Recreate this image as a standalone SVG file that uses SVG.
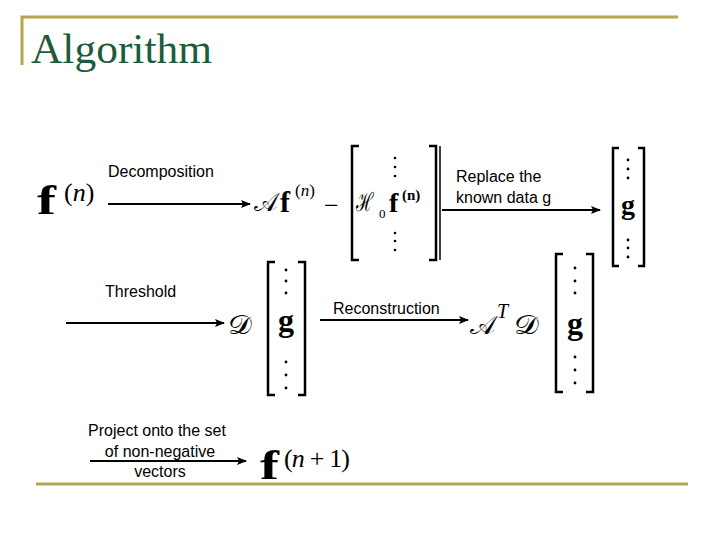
<svg xmlns="http://www.w3.org/2000/svg" width="720" height="540" viewBox="0 0 720 540">
<defs>
<marker id="ah" viewBox="0 0 10 10" refX="9" refY="5" markerWidth="10" markerHeight="10" markerUnits="userSpaceOnUse" orient="auto">
<path d="M0,1 L10,5 L0,9 L2,5 Z" fill="#000"/>
</marker>
</defs>
<style>
.frame{stroke:#b3a552;stroke-width:3;fill:none}
.title{font-family:"Liberation Serif",serif;font-size:42px;fill:#1d5c3a}
.lbl{font-family:"Liberation Sans",Arial,sans-serif;font-size:16px;fill:#000}
.m{font-family:"Liberation Serif","DejaVu Serif",serif;fill:#000}
.fb{font-weight:bold;font-size:42px}
.sup{font-size:26px}
.it{font-style:italic}
.cal{font-family:"DejaVu Serif","Liberation Serif",serif;font-size:26px}
.br{stroke:#000;stroke-width:2.5;fill:none}
.conn{stroke:#000;stroke-width:2;fill:none;marker-end:url(#ah)}
.dot{fill:#000}
</style>
<rect width="720" height="540" fill="#fff"/>
<g id="frame">
<path class="frame" d="M22,65 L22,17 L678,17"/>
<path class="frame" d="M36,484 L688,484"/>
<text class="title" x="31" y="63" textLength="181" lengthAdjust="spacingAndGlyphs">Algorithm</text>
</g>
<g id="connectors">
<line class="conn" x1="108" y1="204" x2="250" y2="204"/>
<line class="conn" x1="442" y1="210" x2="600" y2="210"/>
<line class="conn" x1="66" y1="323" x2="224" y2="323"/>
<line class="conn" x1="320" y1="320" x2="468" y2="320"/>
<line class="conn" x1="90" y1="461" x2="246" y2="461"/>
<text class="lbl" x="108" y="177">Decomposition</text>
<text class="lbl" x="456" y="182">Replace the</text>
<text class="lbl" x="456" y="203">known data g</text>
<text class="lbl" x="105" y="297">Threshold</text>
<text class="lbl" x="333" y="314">Reconstruction</text>
<text class="lbl" x="157" y="436" text-anchor="middle">Project onto the set</text>
<text class="lbl" x="160" y="457" text-anchor="middle">of non-negative</text>
<text class="lbl" x="160" y="477" text-anchor="middle">vectors</text>
</g>
<g id="fn">
<text class="m fb" x="37" y="214" textLength="19" lengthAdjust="spacingAndGlyphs">f</text>
<text class="m sup" x="64" y="201">(<tspan class="it">n</tspan>)</text>
</g>
<g id="Afn">
<text class="m cal" x="254" y="211" textLength="24" lengthAdjust="spacingAndGlyphs">𝒜</text>
<text class="m" x="280" y="212" font-size="30" font-weight="bold">f</text>
<text class="m" x="295" y="196" font-size="17">(<tspan class="it">n</tspan>)</text>
<text class="m" x="324" y="214" font-size="26">−</text>
</g>
<g id="vecH">
<path class="br" d="M359,146 L352,146 L352,260 L359,260"/>
<path class="br" d="M429,146 L436,146 L436,260 L429,260"/>
<line stroke="#000" stroke-width="1.5" x1="440" y1="146" x2="440" y2="260"/>
<circle class="dot" cx="395" cy="158" r="1.3"/><circle class="dot" cx="395" cy="167" r="1.3"/><circle class="dot" cx="395" cy="176" r="1.3"/>
<text class="m" x="356" y="211"><tspan class="cal" font-size="21" textLength="18" lengthAdjust="spacingAndGlyphs">ℋ</tspan><tspan x="379" dy="7" font-size="13">0</tspan><tspan x="389" dy="-6" font-size="28" font-weight="bold">f</tspan><tspan x="402" dy="-12" font-size="15" font-weight="bold">(n)</tspan></text>
<circle class="dot" cx="395" cy="233" r="1.3"/><circle class="dot" cx="395" cy="241" r="1.3"/><circle class="dot" cx="395" cy="250" r="1.3"/>
</g>
<g id="vecG1">
<path class="br" d="M619,148 L613,148 L613,266 L619,266"/>
<path class="br" d="M638,148 L644,148 L644,266 L638,266"/>
<circle class="dot" cx="628" cy="160" r="1.4"/><circle class="dot" cx="628" cy="169" r="1.4"/><circle class="dot" cx="628" cy="178" r="1.4"/>
<text class="m" x="628" y="214" font-size="28" text-anchor="middle" font-weight="bold">g</text>
<circle class="dot" cx="628" cy="240" r="1.4"/><circle class="dot" cx="628" cy="248" r="1.4"/><circle class="dot" cx="628" cy="257" r="1.4"/>
</g>
<g id="Dg">
<text class="m cal" x="228" y="334" textLength="24" lengthAdjust="spacingAndGlyphs">𝒟</text>
<path class="br" d="M275,262 L268,262 L268,395 L275,395"/>
<path class="br" d="M298,262 L305,262 L305,395 L298,395"/>
<circle class="dot" cx="286" cy="270" r="1.4"/><circle class="dot" cx="286" cy="281" r="1.4"/><circle class="dot" cx="286" cy="293" r="1.4"/>
<text class="m" x="286" y="331" font-size="32" text-anchor="middle" font-weight="bold">g</text>
<circle class="dot" cx="286" cy="362" r="1.4"/><circle class="dot" cx="286" cy="375" r="1.4"/><circle class="dot" cx="286" cy="388" r="1.4"/>
</g>
<g id="ATDg">
<text class="m cal" x="470" y="334" textLength="26" lengthAdjust="spacingAndGlyphs">𝒜</text>
<text class="m it" x="497" y="318" font-size="20">T</text>
<text class="m cal" x="514" y="334" textLength="25" lengthAdjust="spacingAndGlyphs">𝒟</text>
<path class="br" d="M563,254 L556,254 L556,392 L563,392"/>
<path class="br" d="M586,254 L593,254 L593,392 L586,392"/>
<circle class="dot" cx="575" cy="268" r="1.4"/><circle class="dot" cx="575" cy="281" r="1.4"/><circle class="dot" cx="575" cy="293" r="1.4"/>
<text class="m" x="575" y="334" font-size="32" text-anchor="middle" font-weight="bold">g</text>
<circle class="dot" cx="575" cy="357" r="1.4"/><circle class="dot" cx="575" cy="370" r="1.4"/><circle class="dot" cx="575" cy="383" r="1.4"/>
</g>
<g id="fn1">
<text class="m fb" x="260" y="479" textLength="19" lengthAdjust="spacingAndGlyphs">f</text>
<text class="m sup" x="284" y="467" textLength="66" lengthAdjust="spacing">(<tspan class="it">n</tspan> + 1)</text>
</g>
</svg>
